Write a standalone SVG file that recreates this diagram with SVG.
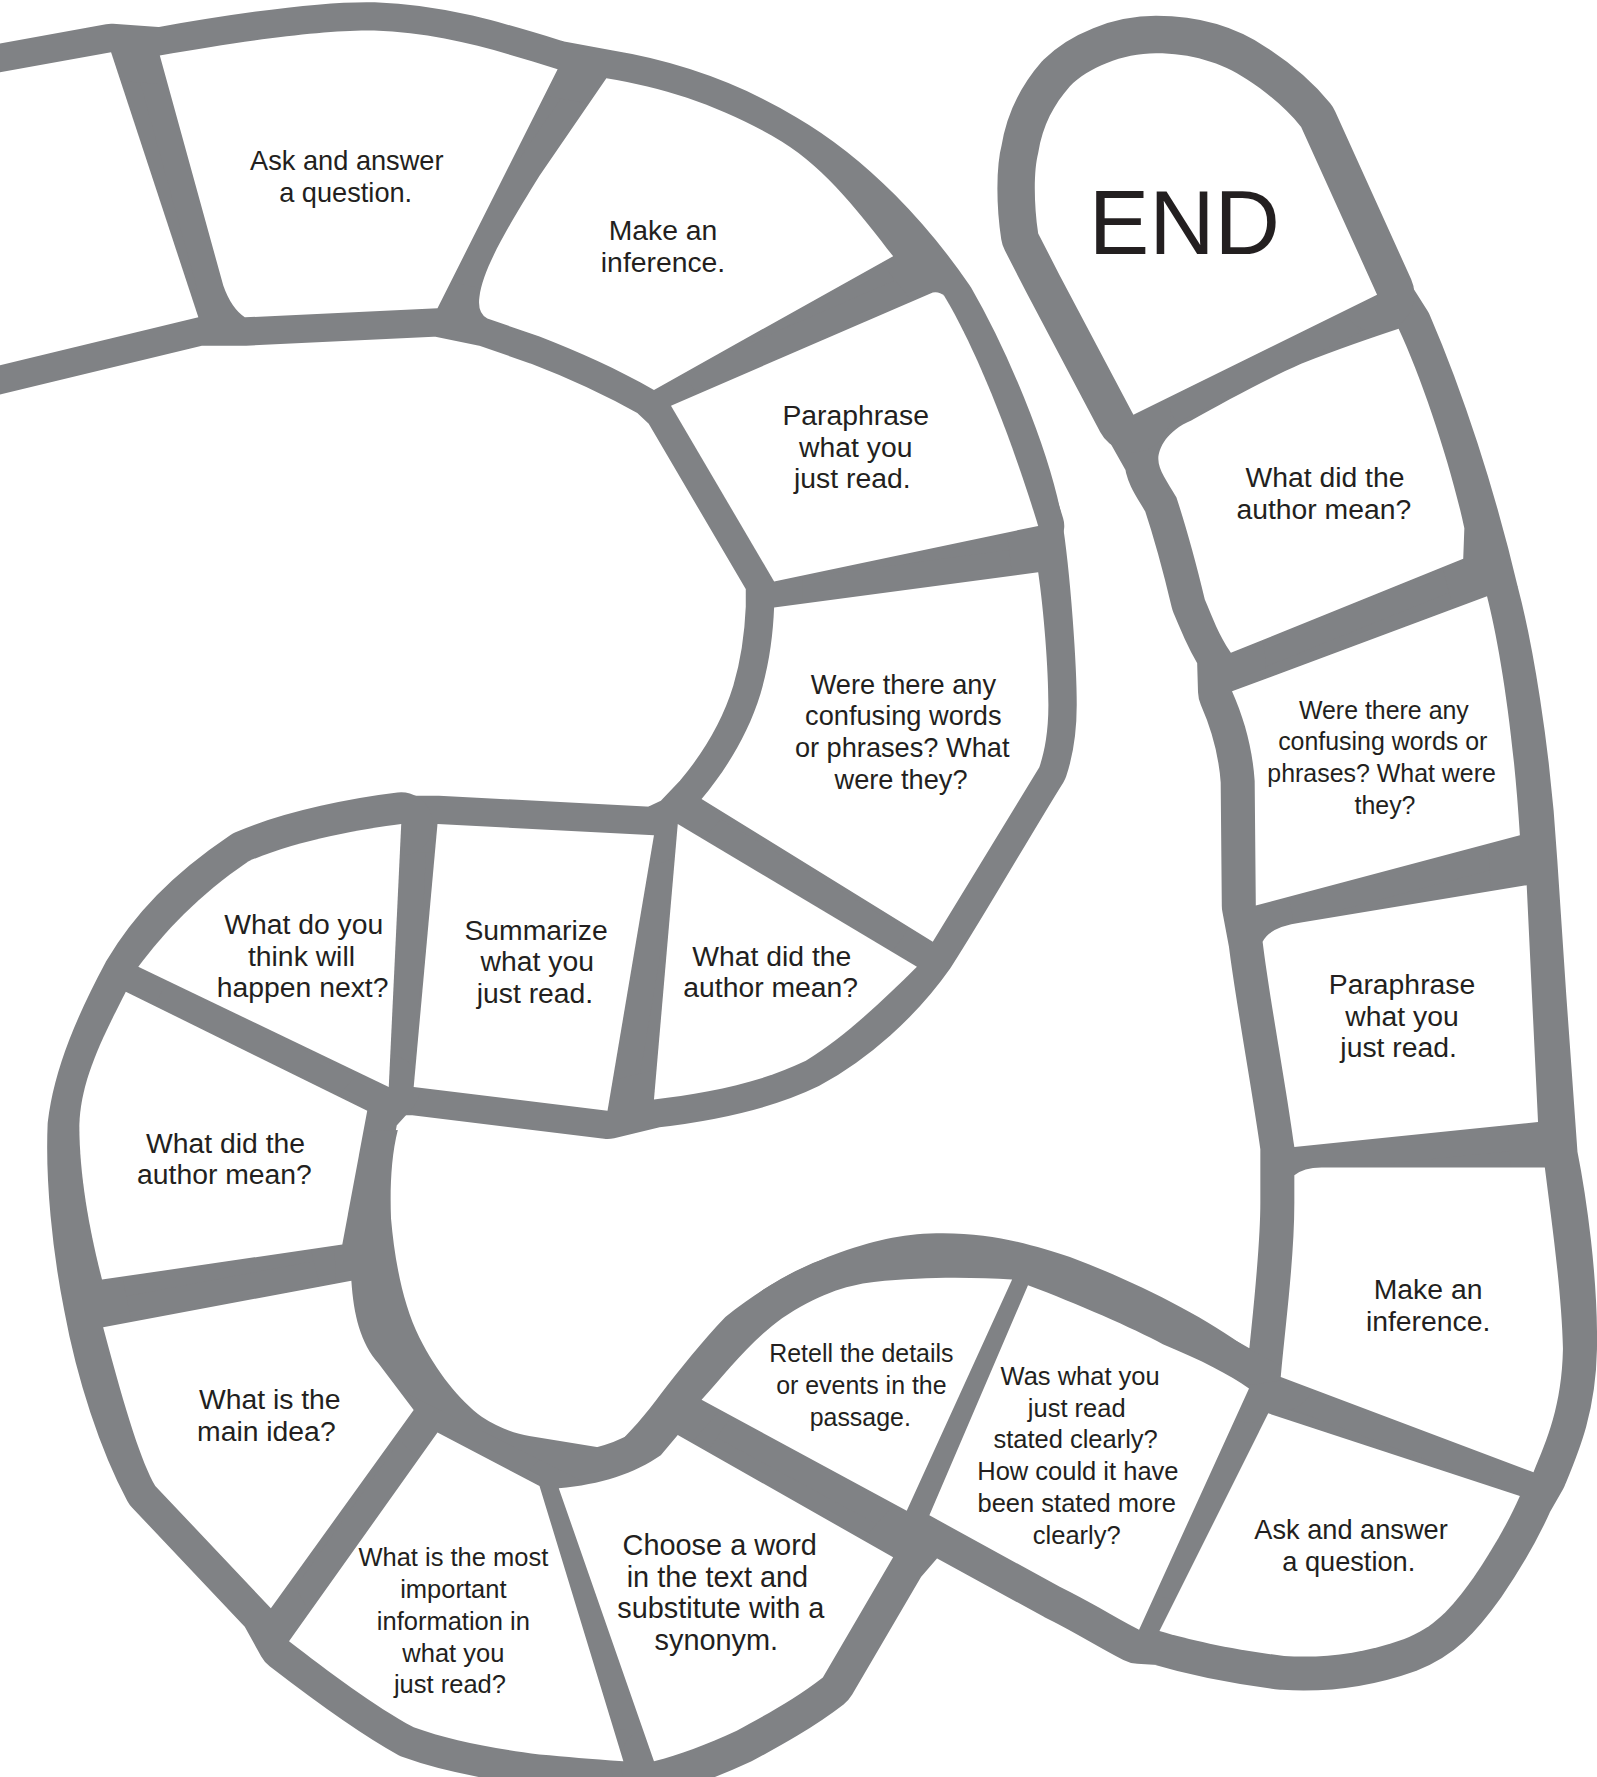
<svg xmlns="http://www.w3.org/2000/svg" width="1597" height="1777" viewBox="0 0 1597 1777">
<style>
.bd{fill:#808285;stroke:#808285;stroke-linejoin:round;stroke-width:46}
.rail{fill:none;stroke:#808285;stroke-linejoin:round;stroke-linecap:round}
.w50{stroke-width:50}.w56{stroke-width:56}.w60{stroke-width:60}.w66{stroke-width:66}
.cell{fill:#ffffff;stroke:none}
.t{font-family:"Liberation Sans",Arial,sans-serif;fill:#231f20;text-anchor:middle}
.s22{font-size:22px}.s23{font-size:22.5px}.s24{font-size:24px}.s25{font-size:25px}.s26{font-size:25.5px}
.end{font-size:80px}
</style>
<defs>
<path id="c1" d="M-40,71 L98,46 L175,280 L-40,332 Z"/>
<path id="c2" d="M141,49 C220,35 290,26 330,27 C390,29 440,45 492,61 L386,272 L216,280 Q204,272 197,252 Z"/>
<path id="c3" d="M535,69 C590,78 640,95 690,125 C730,150 760,190 788,226 L577,344 C545,326 510,310 476,297 L430,281 Q421,276 423,262 C426,238 445,205 476,155 Z"/>
<path id="c4" d="M592,358 L823,258 Q829,257 833,261 C852,292 884,360 916,464 L683,513 Z"/>
<path id="c5" d="M683,536 L916,505 C921,540 925,590 925,622 C925,648 921,665 917,677 L823,831 L619,705 C640,680 660,648 671,612 C679,585 682,560 683,536 Z"/>
<path id="c6" d="M598,727 L809,853 C780,882 745,915 711,936 C670,956 620,965 577,970 Z"/>
<path id="c7" d="M386,727 L577,737 L536,980 L365,959 Z"/>
<path id="c8" d="M354,727 L343,959 L122,853 C145,822 175,790 219,760 C260,742 320,731 354,727 Z"/>
<path id="c9" d="M111,875 L324,980 L302,1098 L90,1129 C80,1090 70,1040 70,993 C71,955 88,920 111,875 Z"/>
<path id="c10" d="M91,1171 L310,1130 C312,1160 318,1185 334,1203 L365,1244 L239,1419 L137,1311 C125,1290 112,1250 91,1171 Z"/>
<path id="c11" d="M386,1264 L476,1311 L550,1554 C520,1552 500,1550 476,1548 C430,1542 395,1535 365,1524 C330,1505 290,1475 255,1448 Z"/>
<path id="c12" d="M493,1313 C530,1310 560,1300 583,1284 L598,1266 L788,1374 L726,1480 C700,1500 672,1515 650,1527 C622,1540 600,1548 577,1554 Z"/>
<path id="c13" d="M619,1235 C640,1212 660,1185 690,1163 C720,1143 745,1134 771,1131 C820,1126 860,1127 893,1129 L800,1333 Z"/>
<path id="c14" d="M907,1134 C950,1150 1000,1172 1026,1186 C1060,1200 1085,1213 1102,1225 L1005,1438 C980,1425 960,1412 935,1400 L820,1337 Z"/>
<path id="c15" d="M1119,1247 L1341,1320 C1330,1345 1315,1370 1300,1392 C1280,1420 1265,1436 1239,1446 C1200,1460 1165,1463 1133,1461 C1090,1456 1050,1447 1023,1439 Z"/>
<path id="c16" d="M1142,1037 Q1150,1030 1166,1030 L1363,1030 C1368,1070 1378,1140 1379,1190 C1378,1240 1365,1270 1353,1299 L1130,1215 C1134,1170 1142,1110 1142,1061 Z"/>
<path id="c17" d="M1114,831 Q1120,818 1148,814 L1347,781 L1357,990 L1142,1012 C1135,960 1120,880 1114,831 Z"/>
<path id="c18" d="M1087,610 L1312,526 C1322,565 1335,640 1341,737 L1108,799 L1107,689 C1105,660 1098,635 1087,610 Z"/>
<path id="c19" d="M1022,405 C1022,395 1030,380 1051,371 C1080,355 1110,338 1148,321 C1180,308 1210,298 1234,290 C1255,335 1280,410 1292,466 L1291,493 L1086,576 C1075,560 1070,545 1063,529 C1055,495 1045,460 1038,439 C1030,425 1022,415 1022,405 Z"/>
<path id="c20" d="M1000,366 L935,243 L916,206 C912,180 912,150 916,135 C920,110 930,92 944,76 C960,60 990,47 1020,47 C1050,47 1078,55 1100,70 C1120,83 1135,96 1148,112 L1215,260 Z"/>
</defs>
<rect width="1597" height="1777" fill="#ffffff"/>
<g transform="scale(1.1334)">
<g id="track">
<use href="#c1" class="bd"/>
<use href="#c2" class="bd"/>
<use href="#c3" class="bd"/>
<use href="#c4" class="bd"/>
<use href="#c5" class="bd"/>
<use href="#c6" class="bd"/>
<use href="#c7" class="bd"/>
<use href="#c8" class="bd"/>
<use href="#c9" class="bd"/>
<use href="#c10" class="bd"/>
<use href="#c11" class="bd"/>
<use href="#c12" class="bd"/>
<use href="#c13" class="bd"/>
<use href="#c14" class="bd"/>
<use href="#c15" class="bd"/>
<use href="#c16" class="bd"/>
<use href="#c17" class="bd"/>
<use href="#c18" class="bd"/>
<use href="#c19" class="bd"/>
<use href="#c20" class="bd"/>
<path class="rail w50" d="M-40,71 L98,46 L141,49 C220,35 290,26 330,27 C390,29 440,45 492,61 L535,69 C590,78 640,95 690,125 C750,160 800,215 835,266 C865,318 900,400 912,460 C920,510 925,590 925,622 C925,648 921,665 917,677 C890,720 850,790 818,840 C790,880 750,915 711,936 C670,956 620,965 577,970 L536,980 L365,959 L343,959"/>
<path class="rail w56" d="M343,959 L324,980 L302,1098 L310,1130 C312,1160 318,1185 334,1203 L365,1244 L386,1264 L476,1311 L493,1313"/>
<path class="rail w60" d="M493,1313 C530,1310 560,1300 583,1284 L598,1266 L619,1235 C640,1212 660,1185 690,1163 C720,1143 745,1134 771,1131 C820,1126 860,1127 893,1129 L907,1134 C950,1150 1000,1172 1026,1186 C1060,1200 1085,1213 1102,1225 L1130,1215 C1134,1170 1142,1110 1142,1061 L1142,1037 L1142,1012 C1135,960 1120,880 1114,831 L1108,799 L1107,689 C1105,660 1098,635 1087,610 L1086,576 C1075,560 1070,545 1063,529 C1055,495 1045,460 1038,439 C1030,425 1022,415 1022,405 L1000,366"/>
<path class="rail w50" d="M-40,332 L175,280 L216,280 L386,272 L430,281 L476,297 C510,310 545,326 577,344 L592,358 L683,513 L683,536 C682,560 679,585 671,612 C660,648 640,680 619,705 L598,727 L577,737 L386,727 L354,727"/>
<path class="rail w56" d="M354,727 C320,731 260,742 219,760 C170,793 140,825 118,862 C95,905 75,950 70,993 C68,1040 74,1100 84,1150 C95,1210 115,1270 137,1311 L239,1419 L255,1448 C290,1475 330,1505 365,1524 C395,1535 430,1542 476,1548 C500,1550 520,1552 550,1554 L577,1554"/>
<path class="rail w60" d="M577,1554 C600,1548 622,1540 650,1527 C672,1515 700,1500 726,1480 L788,1374 L820,1337 L935,1400 C960,1412 980,1425 1005,1438 L1023,1439 C1050,1447 1090,1456 1133,1461 C1165,1463 1200,1460 1239,1446 C1265,1436 1280,1420 1300,1392 C1315,1370 1330,1345 1341,1320 L1353,1299 C1365,1270 1378,1240 1379,1190 C1380,1130 1370,1060 1362,1020 L1352,880 L1344,760 C1338,660 1322,570 1310,525 C1290,440 1262,355 1234,290 L1215,260"/>
<path class="rail w66" d="M1215,260 L1148,112 C1135,96 1120,83 1100,70 C1078,55 1050,47 1020,47 C990,47 960,60 944,76 C930,92 920,110 916,135 C912,150 912,180 916,206 L935,243 L1000,366"/>
<path fill="#808285" d="M351,997 C345,1020 344,1050 345,1075 C348,1110 355,1150 370,1180 C385,1210 405,1235 425,1250 C440,1260 455,1265 467,1267 L540,1279 C555,1265 570,1248 583,1230 C600,1208 620,1183 640,1162 C670,1138 700,1120 741,1105 C775,1093 800,1088 832,1088 C880,1088 915,1100 944,1109 C1000,1130 1060,1160 1101,1190 L1150,1215 L1050,1230 L950,1170 L700,1170 L560,1330 L300,1200 L290,1000 Z"/>
</g>
<g id="n01"><use href="#c1" class="cell"/></g>
<g id="n02"><use href="#c2" class="cell"/><text class="t s24"><tspan x="306" y="150">Ask and answer</tspan><tspan x="305" y="178">a question.</tspan></text></g>
<g id="n03"><use href="#c3" class="cell"/><text class="t s25"><tspan x="585" y="212">Make an</tspan><tspan x="585" y="240">inference.</tspan></text></g>
<g id="n04"><use href="#c4" class="cell"/><text class="t s25"><tspan x="755" y="375">Paraphrase</tspan><tspan x="755" y="403">what you</tspan><tspan x="752" y="431">just read.</tspan></text></g>
<g id="n05"><use href="#c5" class="cell"/><text class="t s24"><tspan x="797" y="612">Were there any</tspan><tspan x="797" y="640">confusing words</tspan><tspan x="796" y="668">or phrases? What</tspan><tspan x="795" y="696">were they?</tspan></text></g>
<g id="n06"><use href="#c6" class="cell"/><text class="t s25"><tspan x="681" y="852">What did the</tspan><tspan x="680" y="880">author mean?</tspan></text></g>
<g id="n07"><use href="#c7" class="cell"/><text class="t s25"><tspan x="473" y="829">Summarize</tspan><tspan x="474" y="857">what you</tspan><tspan x="472" y="885">just read.</tspan></text></g>
<g id="n08"><use href="#c8" class="cell"/><text class="t s25"><tspan x="268" y="824">What do you</tspan><tspan x="266" y="852">think will</tspan><tspan x="267" y="880">happen next?</tspan></text></g>
<g id="n09"><use href="#c9" class="cell"/><text class="t s25"><tspan x="199" y="1017">What did the</tspan><tspan x="198" y="1045">author mean?</tspan></text></g>
<g id="n10"><use href="#c10" class="cell"/><text class="t s25"><tspan x="238" y="1243">What is the</tspan><tspan x="235" y="1271">main idea?</tspan></text></g>
<g id="n11"><use href="#c11" class="cell"/><text class="t s23"><tspan x="400" y="1382">What is the most</tspan><tspan x="400" y="1410">important</tspan><tspan x="400" y="1438">information in</tspan><tspan x="400" y="1466">what you</tspan><tspan x="397" y="1494">just read?</tspan></text></g>
<g id="n12"><use href="#c12" class="cell"/><text class="t s26"><tspan x="635" y="1372">Choose a word</tspan><tspan x="633" y="1400">in the text and</tspan><tspan x="636" y="1428">substitute with a</tspan><tspan x="632" y="1456">synonym.</tspan></text></g>
<g id="n13"><use href="#c13" class="cell"/><text class="t s22"><tspan x="760" y="1202">Retell the details</tspan><tspan x="760" y="1230">or events in the</tspan><tspan x="759" y="1258">passage.</tspan></text></g>
<g id="n14"><use href="#c14" class="cell"/><text class="t s23"><tspan x="953" y="1222">Was what you</tspan><tspan x="950" y="1250">just read</tspan><tspan x="949" y="1278">stated clearly?</tspan><tspan x="951" y="1306">How could it have</tspan><tspan x="950" y="1334">been stated more</tspan><tspan x="950" y="1362">clearly?</tspan></text></g>
<g id="n15"><use href="#c15" class="cell"/><text class="t s24"><tspan x="1192" y="1358">Ask and answer</tspan><tspan x="1190" y="1386">a question.</tspan></text></g>
<g id="n16"><use href="#c16" class="cell"/><text class="t s25"><tspan x="1260" y="1146">Make an</tspan><tspan x="1260" y="1174">inference.</tspan></text></g>
<g id="n17"><use href="#c17" class="cell"/><text class="t s25"><tspan x="1237" y="877">Paraphrase</tspan><tspan x="1237" y="905">what you</tspan><tspan x="1234" y="933">just read.</tspan></text></g>
<g id="n18"><use href="#c18" class="cell"/><text class="t s22"><tspan x="1221" y="634">Were there any</tspan><tspan x="1220" y="662">confusing words or</tspan><tspan x="1219" y="690">phrases? What were</tspan><tspan x="1222" y="718">they?</tspan></text></g>
<g id="n19"><use href="#c19" class="cell"/><text class="t s25"><tspan x="1169" y="430">What did the</tspan><tspan x="1168" y="458">author mean?</tspan></text></g>
<g id="n20"><use href="#c20" class="cell"/><text class="t end" x="1045" y="224">END</text></g>
</g>
</svg>
